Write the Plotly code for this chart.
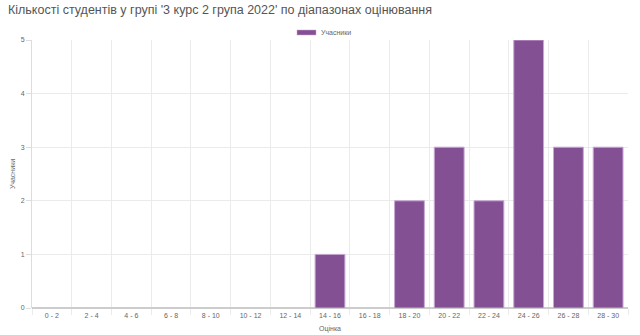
import plotly.graph_objects as go

categories = ["0 - 2", "2 - 4", "4 - 6", "6 - 8", "8 - 10", "10 - 12", "12 - 14", "14 - 16",
              "16 - 18", "18 - 20", "20 - 22", "22 - 24", "24 - 26", "26 - 28", "28 - 30"]
counts = [0, 0, 0, 0, 0, 0, 0, 1, 0, 2, 3, 2, 5, 3, 3]
yticks = [0, 1, 2, 3, 4, 5]
series_name = "Учасники"
bar_color = "#845094"

fig = go.Figure()
fig.add_trace(go.Bar(
    x=categories, y=counts, name=series_name,
    marker=dict(color=bar_color,
                line=dict(color="#c9a6d4", width=[0 if v == 0 else 1 for v in counts])),
    showlegend=False,
))

# legend drawn as a wide swatch + label (Chart.js style)
fig.add_shape(type="rect", xref="paper", yref="paper",
              x0=(297 - 32) / 596, x1=(316 - 32) / 596,
              y0=(308 - 35) / 268, y1=(308 - 30) / 268,
              fillcolor=bar_color, line=dict(color="#c9a6d4", width=0.5))
fig.add_annotation(text=series_name, xref="paper", yref="paper",
                   x=(319 - 32) / 596, y=(308 - 32.5) / 268, xanchor="left", yanchor="middle",
                   showarrow=False, font=dict(size=7, color="#666"))

fig.update_layout(
    width=640, height=335,
    margin=dict(l=32, r=12, t=40, b=27),
    paper_bgcolor="white", plot_bgcolor="white",
    font=dict(family="Liberation Sans, Arial, sans-serif", color="#666", size=7),
    title=dict(text="Кількості студентів у групі '3 курс 2 група 2022' по діапазонах оцінювання",
               x=0.0125, xanchor="left", y=0.97, yanchor="middle",
               font=dict(size=12.5, color="#555")),
    bargap=0.25,
    xaxis=dict(type="category", tickson="boundaries", showgrid=True, gridcolor="#ebebeb",
               ticks="outside", ticklen=6, tickcolor="#ebebeb", automargin=False,
               ticklabelstandoff=2,
               showline=False, tickfont=dict(size=7, color="#666"),
               title=dict(text="Оцінка", font=dict(size=7, color="#666"), standoff=8)),
    yaxis=dict(range=[0, 5], tickvals=yticks, showgrid=True, gridcolor="#ebebeb",
               ticks="outside", ticklen=5, tickcolor="#ddd", automargin=False,
               showline=True, linecolor="#ddd", zeroline=True, zerolinecolor="#ccc",
               tickfont=dict(size=7, color="#666"),
               title=dict(text=series_name, font=dict(size=7, color="#666"), standoff=4)),
)

fig.write_html("out.html")
